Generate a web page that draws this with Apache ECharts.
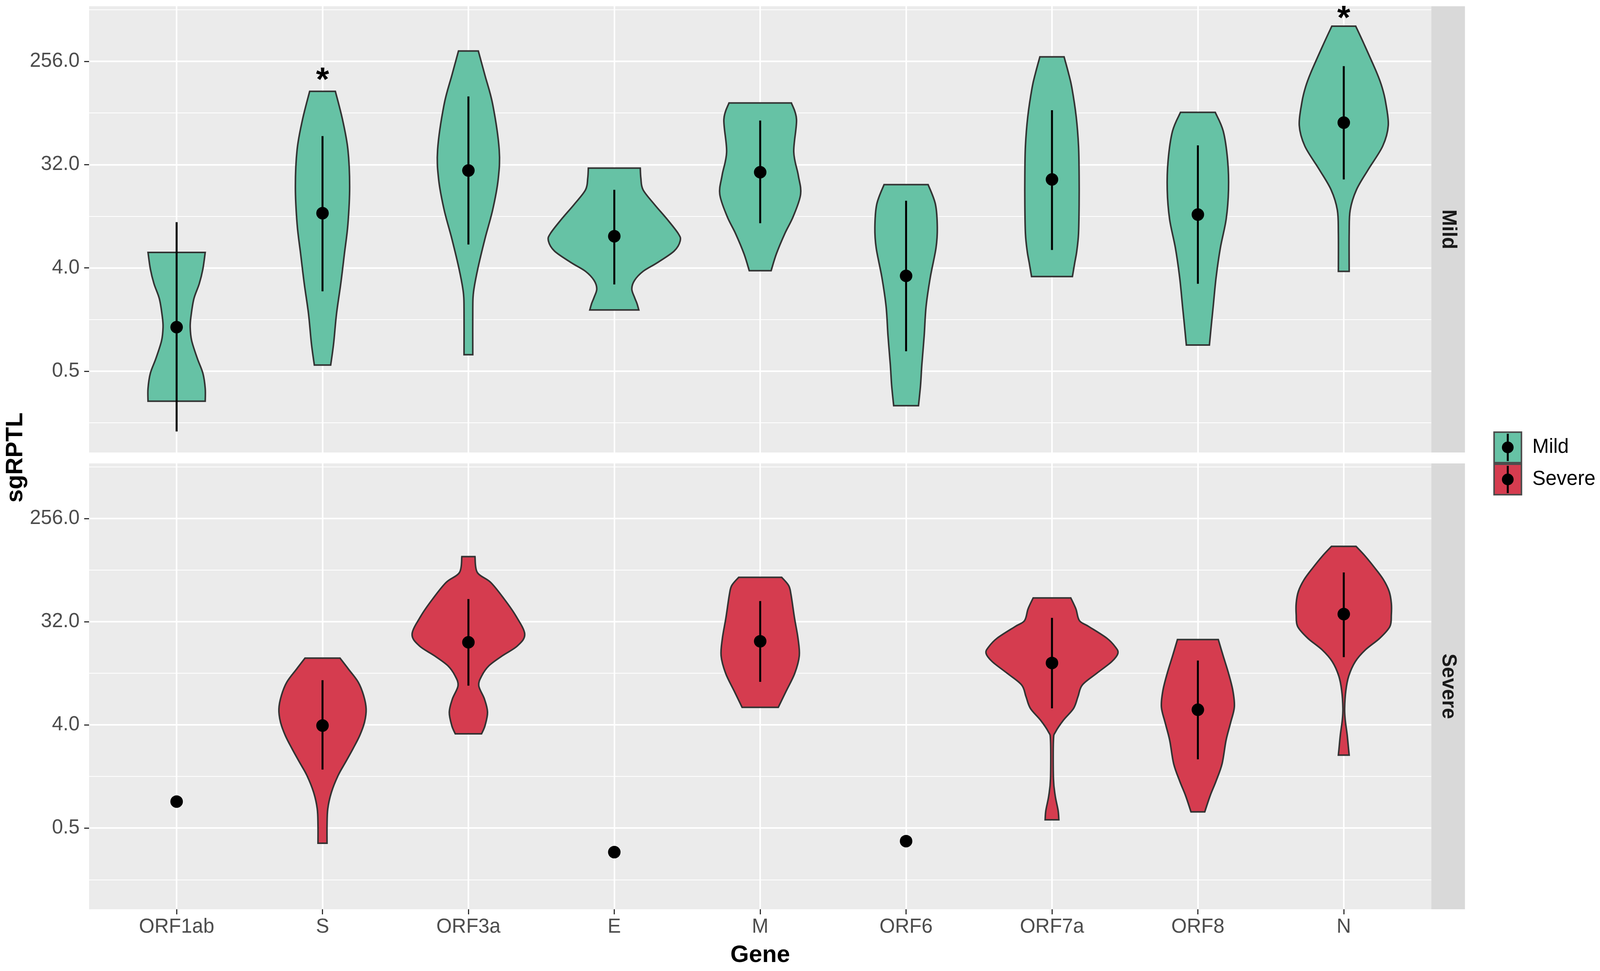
<!DOCTYPE html>
<html>
<head>
<meta charset="utf-8">
<script src="https://cdn.jsdelivr.net/npm/echarts@6/dist/echarts.min.js"></script>
<style>
    html, body { margin: 0; padding: 0; background: #ffffff; overflow: hidden; }
    #chart { width: 100vw; height: 100vh; }
</style>
</head>
<body>
<div id="chart"></div>
<script>
    // genes on the x axis
    var genes = ['ORF1ab', 'S', 'ORF3a', 'E', 'M', 'ORF6', 'ORF7a', 'ORF8', 'N'];
    var geneIdx = [0, 1, 2, 3, 4, 5, 6, 7, 8];

    // y axis is log2(sgRPTL): 0.5, 4, 32, 256
    var yTickLog2 = [-1, 2, 5, 8];
    var yMinorLog2 = [-2.5, 0.5, 3.5, 6.5, 9.5];

    // mean and error bar ends, log2(sgRPTL)
    var mildMean = [0.28, 3.59, 4.83, 2.92, 4.78, 1.77, 4.57, 3.55, 6.22];
    var mildLow = [-2.75, 1.32, 2.68, 1.52, 3.30, -0.42, 2.52, 1.54, 4.57];
    var mildHigh = [3.33, 5.83, 6.98, 4.27, 6.28, 3.95, 6.58, 5.56, 7.86];

    var severeMean = [-0.23, 1.98, 4.40, -1.70, 4.43, -1.38, 3.80, 2.44, 5.22];
    var severeLow = [null, 0.70, 3.14, null, 3.25, null, 2.48, 1.00, 3.97];
    var severeHigh = [null, 3.30, 5.66, null, 5.60, null, 5.11, 3.87, 6.43];

    // significance marks (gene index, log2 position)
    var mildStars = [[1, 7.65], [8, 9.44]];

    // violin outlines: [log2 level, half width in category units], top to bottom
    var mildViolin = [
        [[2.45,.196],[1.97,.18],[1.54,.155],[1.1,.118],[0.58,.098],[0.28,.093],[-0.11,.103],[-0.63,.142],[-1.06,.18],[-1.5,.196],[-1.87,.196]],
        [[7.13,.088],[6.31,.137],[5.44,.174],[4.36,.186],[3.27,.174],[2.41,.15],[1.54,.125],[0.67,.096],[-0.2,.076],[-0.82,.056]],
        [[8.3,.068],[7.6,.113],[6.74,.167],[5.44,.211],[4.57,.204],[3.7,.167],[2.84,.113],[1.97,.064],[1.3,.035],[0.8,.03],[-0.52,.03]],
        [[4.9,.178],[4.61,.182],[4.27,.197],[3.85,.274],[3.42,.361],[3.0,.438],[2.79,.452],[2.49,.41],[2.15,.294],[1.9,.197],[1.64,.139],[1.39,.12],[1.14,.139],[0.97,.155],[0.78,.168]],
        [[6.79,.214],[6.31,.249],[5.37,.23],[4.69,.261],[4.14,.277],[3.5,.227],[3.0,.169],[2.41,.111],[1.92,.075]],
        [[4.42,.151],[3.85,.201],[3.17,.214],[2.58,.205],[1.73,.166],[0.88,.137],[0.03,.124],[-0.81,.108],[-1.41,.099],[-2.0,.085]],
        [[8.13,.083],[7.66,.113],[7.24,.136],[6.39,.166],[5.54,.182],[4.69,.186],[3.85,.186],[3.0,.182],[2.49,.17],[2.15,.156],[1.75,.14]],
        [[6.52,.119],[5.97,.174],[5.12,.204],[4.27,.21],[3.42,.194],[2.58,.154],[1.73,.125],[0.88,.105],[0.29,.091],[-0.24,.079]],
        [[9.02,.082],[8.51,.138],[7.66,.227],[7.24,.263],[6.81,.287],[6.14,.305],[5.54,.267],[4.86,.168],[4.27,.087],[3.68,.044],[3.0,.037],[1.9,.037]]
    ];
    var severeViolin = [
        null,
        [[3.94,.12],[3.62,.178],[3.24,.245],[2.85,.282],[2.46,.299],[2.08,.288],[1.69,.255],[1.3,.208],[0.91,.157],[0.53,.107],[0.04,.061],[-0.44,.036],[-0.93,.031],[-1.44,.031]],
        [[6.89,.045],[6.43,.061],[6.14,.153],[5.66,.245],[5.17,.325],[4.64,.386],[4.3,.337],[4.01,.233],[3.72,.141],[3.43,.092],[3.14,.071],[2.75,.11],[2.37,.131],[1.98,.114],[1.74,.09]],
        null,
        [[6.29,.147],[6.05,.195],[5.79,.211],[5.11,.235],[4.52,.259],[4.01,.268],[3.5,.237],[2.99,.179],[2.51,.124]],
        null,
        [[5.69,.129],[5.37,.164],[5.03,.188],[4.86,.252],[4.52,.376],[4.26,.435],[4.08,.452],[3.84,.41],[3.5,.307],[3.16,.208],[2.82,.178],[2.48,.148],[2.14,.079],[1.8,.025],[1.55,.01],[0.44,.01],[-0.06,.022],[-0.49,.042],[-0.76,.047]],
        [[4.48,.14],[4.01,.173],[3.5,.21],[2.99,.24],[2.52,.25],[2.06,.224],[1.55,.193],[0.87,.166],[0.36,.124],[-0.06,.084],[-0.53,.047]],
        [[7.19,.084],[6.9,.148],[6.56,.213],[6.22,.272],[5.88,.311],[5.54,.326],[5.2,.326],[4.86,.316],[4.52,.247],[4.18,.148],[3.84,.079],[3.42,.034],[2.99,.014],[2.48,.006],[2.14,.01],[1.72,.023],[1.29,.033],[1.12,.037]]
    ];

    var groups = ['Mild', 'Severe'];
    var groupColors = ['#66C2A5', '#D53C4F'];

    var FONT = '"Liberation Sans", Arial, Helvetica, sans-serif';
    var Y_MIN = -3.36, Y_MAX = 9.6;

    var el = document.getElementById('chart');
    var chart = echarts.init(el);
    // layout was measured on a 4562 x 2485 picture; scale to the real box
    var sx = chart.getWidth() / 4562, sy = chart.getHeight() / 2485;
    var s = Math.min(sx, sy);
    function X(v) { return v * sx; }
    function Y(v) { return v * sy; }
    function F(v) { return Math.round(v * s); }

    // catmull-rom through the outline points, only for drawing
    function curveTo(pts) {
        var str = '';
        for (var i = 0; i < pts.length - 1; i++) {
            var p0 = pts[i - 1] || pts[i], p1 = pts[i], p2 = pts[i + 1], p3 = pts[i + 2] || p2;
            str += ' C' + (p1[0] + (p2[0] - p0[0]) / 6) + ' ' + (p1[1] + (p2[1] - p0[1]) / 6) +
                ' ' + (p2[0] - (p3[0] - p1[0]) / 6) + ' ' + (p2[1] - (p3[1] - p1[1]) / 6) +
                ' ' + p2[0] + ' ' + p2[1];
        }
        return str;
    }

    function violinSeries(name, profiles, color, xi, yi) {
        var data = [];
        profiles.forEach(function (p, i) { if (p) data.push([i, p[0][0]]); });
        return {
            name: name,
            type: 'custom',
            xAxisIndex: xi,
            yAxisIndex: yi,
            data: data,
            z: 2,
            renderItem: function (params, api) {
                var idx = api.value(0);
                var prof = profiles[idx];
                var right = prof.map(function (p) { return api.coord([idx + p[1], p[0]]); });
                var left = prof.map(function (p) { return api.coord([idx - p[1], p[0]]); }).reverse();
                var d = 'M' + right[0][0] + ' ' + right[0][1] + curveTo(right) +
                    ' L' + left[0][0] + ' ' + left[0][1] + curveTo(left) + ' Z';
                return {
                    type: 'path',
                    shape: {pathData: d},
                    style: {fill: color, stroke: '#333333', lineWidth: F(4)}
                };
            }
        };
    }

    function rangeSeries(low, high, xi, yi) {
        var data = [];
        low.forEach(function (v, i) { if (v != null) data.push([i, v, high[i]]); });
        return {
            type: 'custom',
            xAxisIndex: xi,
            yAxisIndex: yi,
            data: data,
            z: 3,
            renderItem: function (params, api) {
                var a = api.coord([api.value(0), api.value(1)]);
                var b = api.coord([api.value(0), api.value(2)]);
                return {
                    type: 'line',
                    shape: {x1: a[0], y1: a[1], x2: b[0], y2: b[1]},
                    style: {stroke: '#000000', lineWidth: F(6)}
                };
            }
        };
    }

    function meanSeries(mean, xi, yi) {
        return {
            type: 'scatter',
            xAxisIndex: xi,
            yAxisIndex: yi,
            data: mean.map(function (v, i) { return [i, v]; }),
            symbol: 'circle',
            symbolSize: F(36),
            itemStyle: {color: '#000000', opacity: 1},
            z: 4
        };
    }

    function xAxis(gi, showLabels) {
        return {
            type: 'value',
            gridIndex: gi,
            min: -0.6,
            max: 8.6,
            axisLine: {show: false, onZero: false},
            axisTick: {show: showLabels, customValues: geneIdx, length: Y(13), lineStyle: {color: '#333333', width: F(3)}},
            axisLabel: {
                show: showLabels,
                customValues: geneIdx,
                margin: Y(20),
                fontFamily: FONT,
                fontSize: F(57),
                color: '#4D4D4D',
                formatter: function (v) { return genes[v]; }
            },
            splitLine: {show: true, lineStyle: {color: '#ffffff', width: F(4)}},
            name: showLabels ? 'Gene' : '',
            nameLocation: 'middle',
            nameGap: Y(88),
            nameTextStyle: {fontFamily: FONT, fontSize: F(68), fontWeight: 'bold', color: '#000000'}
        };
    }

    function yAxisMajor(gi) {
        return {
            type: 'value',
            gridIndex: gi,
            min: Y_MIN,
            max: Y_MAX,
            position: 'left',
            axisLine: {show: false, onZero: false},
            axisTick: {show: true, customValues: yTickLog2, length: X(14), lineStyle: {color: '#333333', width: F(3)}},
            axisLabel: {
                customValues: yTickLog2,
                margin: X(27),
                fontFamily: FONT,
                fontSize: F(57),
                color: '#4D4D4D',
                formatter: function (v) { return Math.pow(2, v).toFixed(1); }
            },
            splitLine: {show: true, lineStyle: {color: '#ffffff', width: F(4)}}
        };
    }

    function yAxisMinor(gi) {
        return {
            type: 'value',
            gridIndex: gi,
            min: Y_MIN,
            max: Y_MAX,
            position: 'left',
            axisLine: {show: false, onZero: false},
            axisTick: {show: false, customValues: yMinorLog2},
            axisLabel: {show: false, customValues: yMinorLog2},
            splitLine: {show: true, lineStyle: {color: '#ffffff', width: F(2)}}
        };
    }

    var PANEL_L = 254, PANEL_R = 4081, STRIP_W = 96;
    var PANELS = [[16, 1158], [1186, 2327]];

    var graphics = [];
    PANELS.forEach(function (p, i) {
        graphics.push({
            type: 'rect',
            shape: {x: X(PANEL_R), y: Y(p[0]), width: X(STRIP_W), height: Y(p[1] - p[0])},
            style: {fill: '#D9D9D9'}
        });
        graphics.push({
            type: 'text',
            x: X(PANEL_R + STRIP_W / 2),
            y: Y((p[0] + p[1]) / 2),
            rotation: -Math.PI / 2,
            style: {
                text: groups[i], fontFamily: FONT, fontSize: F(57), fontWeight: 'bold', fill: '#1A1A1A',
                align: 'center', verticalAlign: 'middle'
            }
        });
    });
    // y title
    graphics.push({
        type: 'text',
        x: X(45),
        y: Y(1171),
        rotation: Math.PI / 2,
        style: {
            text: 'sgRPTL', fontFamily: FONT, fontSize: F(68), fontWeight: 'bold', fill: '#000000',
            align: 'center', verticalAlign: 'middle'
        }
    });
    // legend keys
    groups.forEach(function (g, i) {
        var top = 1104 + i * 82;
        graphics.push({
            type: 'rect',
            shape: {x: X(4260), y: Y(top + 2), width: X(78), height: Y(78)},
            style: {fill: groupColors[i], stroke: '#4D4D4D', lineWidth: F(4)}
        });
        graphics.push({
            type: 'line',
            shape: {x1: X(4299), y1: Y(top + 6), x2: X(4299), y2: Y(top + 76)},
            style: {stroke: '#000000', lineWidth: F(6)}
        });
        graphics.push({
            type: 'circle',
            shape: {cx: X(4299), cy: Y(top + 41), r: F(17)},
            style: {fill: '#000000'}
        });
        graphics.push({
            type: 'text',
            x: X(4369),
            y: Y(top + 41),
            style: {
                text: g, fontFamily: FONT, fontSize: F(57), fill: '#000000',
                align: 'left', verticalAlign: 'middle'
            }
        });
    });

    var starSeries = {
        type: 'custom',
        xAxisIndex: 0,
        yAxisIndex: 0,
        data: mildStars,
        z: 5,
        renderItem: function (params, api) {
            var c = api.coord([api.value(0), api.value(1)]);
            return {
                type: 'text',
                x: c[0],
                y: c[1] + F(22),
                style: {
                    text: '*', fontFamily: FONT, fontSize: F(96), fontWeight: 'bold', fill: '#000000',
                    align: 'center', verticalAlign: 'middle'
                }
            };
        }
    };

    chart.setOption({
        animation: false,
        backgroundColor: '#ffffff',
        grid: PANELS.map(function (p) {
            return {
                left: X(PANEL_L),
                top: Y(p[0]),
                width: X(PANEL_R - PANEL_L),
                height: Y(p[1] - p[0]),
                show: true,
                backgroundColor: '#EBEBEB',
                borderWidth: 0
            };
        }),
        xAxis: [xAxis(0, false), xAxis(1, true)],
        yAxis: [yAxisMajor(0), yAxisMinor(0), yAxisMajor(1), yAxisMinor(1)],
        series: [
            violinSeries('Mild', mildViolin, groupColors[0], 0, 0),
            rangeSeries(mildLow, mildHigh, 0, 0),
            meanSeries(mildMean, 0, 0),
            starSeries,
            violinSeries('Severe', severeViolin, groupColors[1], 1, 2),
            rangeSeries(severeLow, severeHigh, 1, 2),
            meanSeries(severeMean, 1, 2)
        ],
        graphic: graphics
    });
</script>
</body>
</html>
